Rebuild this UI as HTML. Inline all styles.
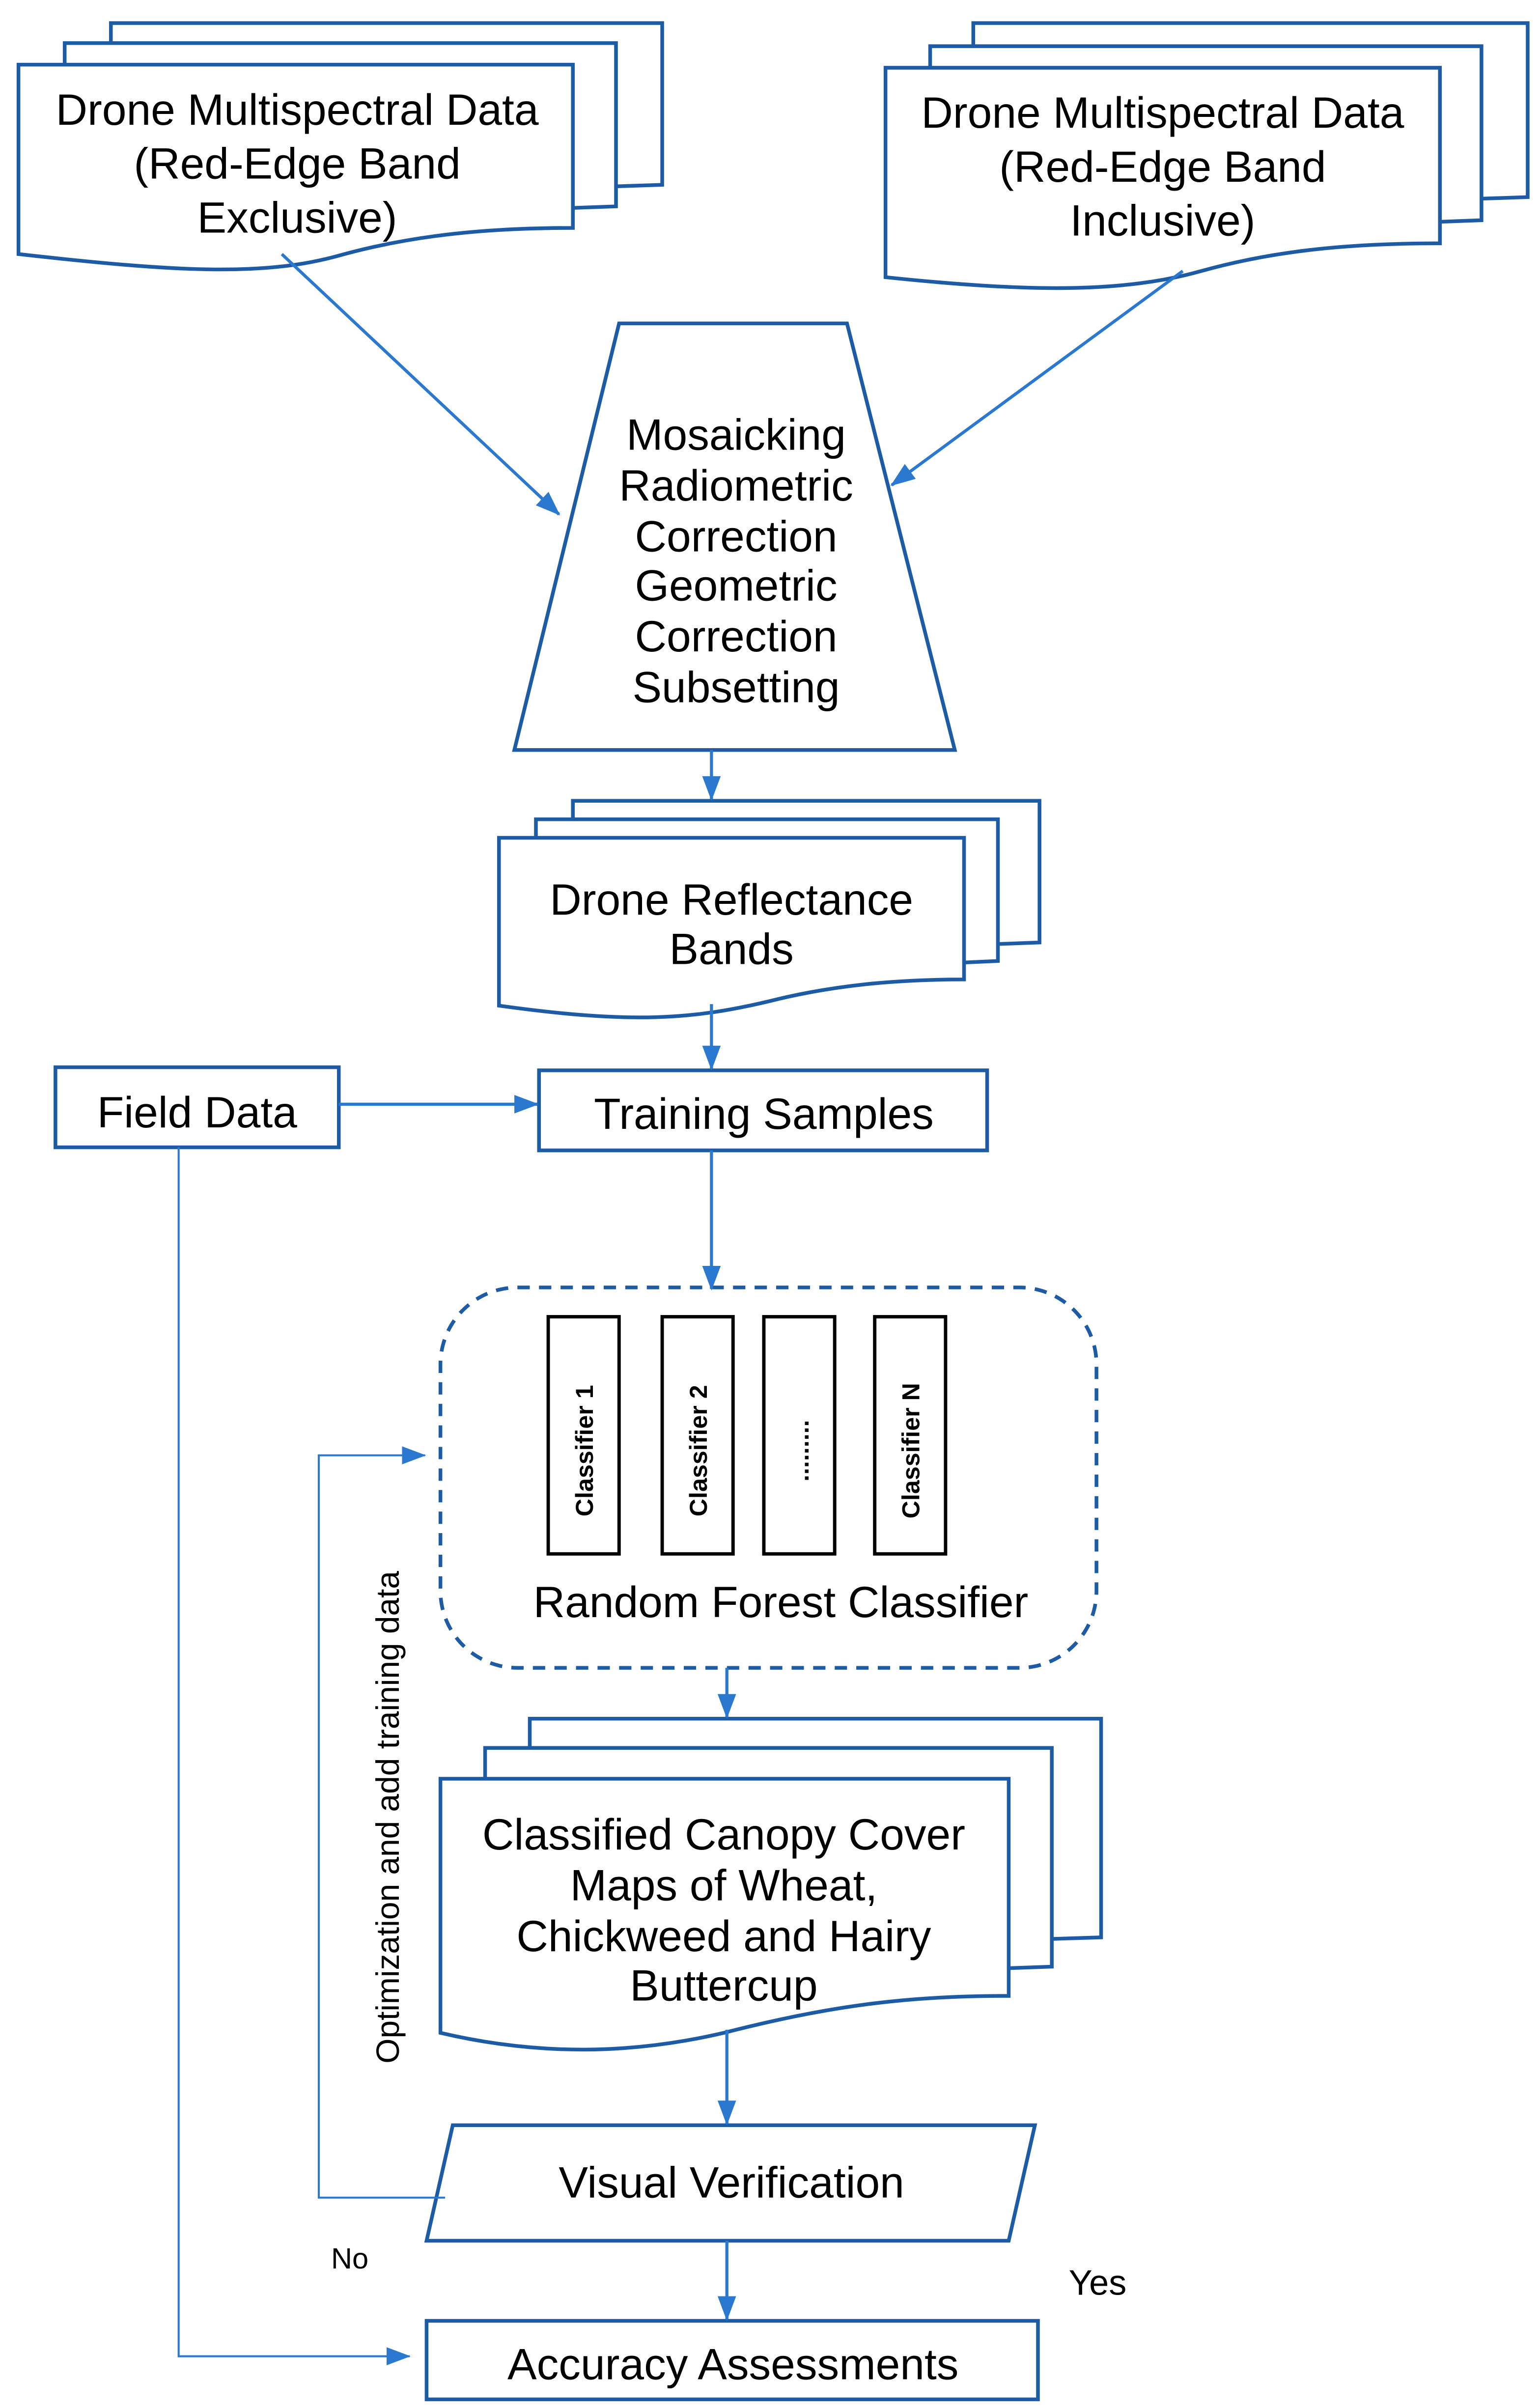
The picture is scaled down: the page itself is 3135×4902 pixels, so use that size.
<!DOCTYPE html>
<html><head><meta charset="utf-8">
<style>
html,body{margin:0;padding:0;background:#fff;}
svg{display:block;}
text{font-family:"Liberation Sans",Arial,sans-serif;fill:#000;}
</style></head>
<body>
<svg width="3135" height="4902" viewBox="0 0 1000 1563.6" preserveAspectRatio="none" xmlns="http://www.w3.org/2000/svg">
<defs>
<marker id="ah" markerWidth="8" markerHeight="6" refX="7.5" refY="3" orient="auto" markerUnits="strokeWidth">
<path d="M0,0 L8,3 L0,6 z" fill="#2a78cf"/>
</marker>
<marker id="ah2" markerWidth="12" markerHeight="9" refX="11.5" refY="4.5" orient="auto" markerUnits="strokeWidth">
<path d="M0,0 L12,4.5 L0,9 z" fill="#2a78cf"/>
</marker>
</defs>
<g stroke="#1d5ca5" stroke-width="2.4">
<!-- Doc1 stack -->
<rect x="72" y="15" width="358" height="105" fill="#fff" stroke="none"/>
<polyline fill="none" points="72,28 72,15 430,15 430,120 400,121"/>
<rect x="42" y="28" width="358" height="106" fill="#fff" stroke="none"/>
<polyline fill="none" points="42,42 42,28 400,28 400,134 372,135"/>
<path fill="#fff" d="M12,42 H372 V148 C320,148 270,152 220,166 C170,180 110,176 12,165 Z"/>
<!-- Doc2 stack -->
<rect x="632" y="15" width="360" height="113" fill="#fff" stroke="none"/>
<polyline fill="none" points="632,30 632,15 992,15 992,128 962,129"/>
<rect x="604" y="30" width="358" height="113" fill="#fff" stroke="none"/>
<polyline fill="none" points="604,44 604,30 962,30 962,143 935,144"/>
<path fill="#fff" d="M575,44 H935 V158 C880,158 830,162 780,176 C730,190 670,190 575,180 Z"/>
<!-- trapezoid -->
<path fill="#fff" d="M402,210 H550 L620,487 H334 Z"/>
<!-- Drone reflectance stack -->
<rect x="372" y="520" width="303" height="92" fill="#fff" stroke="none"/>
<polyline fill="none" points="372,532 372,520 675,520 675,612 648,613"/>
<rect x="348" y="532" width="300" height="92" fill="#fff" stroke="none"/>
<polyline fill="none" points="348,544 348,532 648,532 648,624 626,625"/>
<path fill="#fff" d="M324,544 H626 V636 C580,636 540,640 500,650 C450,662 410,665 324,653 Z"/>
<!-- boxes -->
<rect fill="#fff" x="36" y="693" width="184" height="52"/>
<rect fill="#fff" x="350" y="695" width="291" height="52"/>
<!-- classified stack -->
<rect x="344" y="1116" width="371" height="142" fill="#fff" stroke="none"/>
<polyline fill="none" points="344,1135 344,1116 715,1116 715,1258 683,1259"/>
<rect x="315" y="1135" width="368" height="142" fill="#fff" stroke="none"/>
<polyline fill="none" points="315,1155 315,1135 683,1135 683,1277 655,1278"/>
<path fill="#fff" d="M286,1155 H655 V1296 C590,1296 540,1302 470,1320 C410,1334 350,1335 286,1320 Z"/>
<!-- parallelogram -->
<path fill="#fff" d="M294,1380 H672 L655,1455 H277 Z"/>
<rect fill="#fff" x="277" y="1507" width="397" height="51"/>
</g>
<!-- dashed rounded rect -->
<rect x="286" y="836" width="426" height="247" rx="50" ry="50" fill="none" stroke="#1d5ca5" stroke-width="2.4" stroke-dasharray="8,6"/>
<!-- classifier boxes -->
<g fill="#fff" stroke="#000" stroke-width="2.2">
<rect x="356" y="855" width="46" height="154"/>
<rect x="430" y="855" width="46" height="154"/>
<rect x="496" y="855" width="46" height="154"/>
<rect x="568" y="855" width="46" height="154"/>
</g>
<g font-weight="bold" font-size="16" text-anchor="middle" style="font-family:'DejaVu Sans','Liberation Sans',sans-serif">
<text transform="translate(385,942) rotate(-90)">Classifier 1</text>
<text transform="translate(459,942) rotate(-90)">Classifier 2</text>
<text transform="translate(525,942) rotate(-90)">.........</text>
<text transform="translate(597,942) rotate(-90)">Classifier N</text>
</g>
<!-- arrows -->
<g stroke="#2a78cf" stroke-width="2" fill="none" marker-end="url(#ah)">
<line x1="183" y1="165" x2="363" y2="334"/>
<line x1="768" y1="176" x2="579" y2="315"/>
<line x1="462" y1="487" x2="462" y2="519"/>
<line x1="462" y1="652" x2="462" y2="694"/>
<line x1="220" y1="717" x2="349" y2="717"/>
<line x1="462" y1="747" x2="462" y2="837"/>
<line x1="472" y1="1083" x2="472" y2="1115"/>
<line x1="472" y1="1318" x2="472" y2="1379"/>
<line x1="472" y1="1455" x2="472" y2="1506"/>
</g>
<g stroke="#2a78cf" stroke-width="1.3" fill="none" marker-end="url(#ah2)">
<polyline points="289,1427 207,1427 207,945 276,945"/>
<polyline points="116,745 116,1530 266,1530"/>
</g>
<!-- texts -->
<g font-size="28.5" text-anchor="middle">
<text x="193" y="81">Drone Multispectral Data</text>
<text x="193" y="116">(Red-Edge Band</text>
<text x="193" y="151">Exclusive)</text>
<text x="755" y="83">Drone Multispectral Data</text>
<text x="755" y="118">(Red-Edge Band</text>
<text x="755" y="153">Inclusive)</text>
<text x="478" y="292">Mosaicking</text>
<text x="478" y="325">Radiometric</text>
<text x="478" y="358">Correction</text>
<text x="478" y="390">Geometric</text>
<text x="478" y="423">Correction</text>
<text x="478" y="456">Subsetting</text>
<text x="475" y="594">Drone Reflectance</text>
<text x="475" y="626">Bands</text>
<text x="128" y="732">Field Data</text>
<text x="496" y="733">Training Samples</text>
<text x="507" y="1050">Random Forest Classifier</text>
<text x="470" y="1201">Classified Canopy Cover</text>
<text x="470" y="1234">Maps of Wheat,</text>
<text x="470" y="1267">Chickweed and Hairy</text>
<text x="470" y="1299">Buttercup</text>
<text x="475" y="1427">Visual Verification</text>
<text x="476" y="1545">Accuracy Assessments</text>
</g>
<text transform="translate(259,1180) rotate(-90)" font-size="21" text-anchor="middle">Optimization and add training data</text>
<text x="215" y="1473" font-size="19">No</text>
<text x="694" y="1490" font-size="23">Yes</text>
</svg>
</body></html>
